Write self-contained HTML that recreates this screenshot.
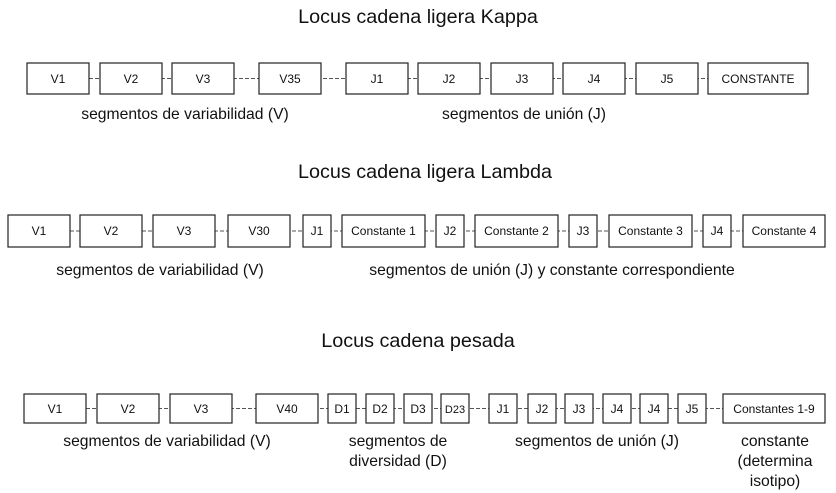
<!DOCTYPE html>
<html><head><meta charset="utf-8"><style>
body{margin:0;background:#fff}
svg{display:block}
text{font-family:"Liberation Sans",sans-serif;fill:#111}
.b{fill:#fff;stroke:#222;stroke-width:1.2}
.l{stroke:#555;stroke-width:1;stroke-dasharray:4,2}
.t{font-size:12px}
.s{font-size:11px}
.h{font-size:19.8px}
.c{font-size:15.7px}
</style></head><body>
<svg width="836" height="493" viewBox="0 0 836 493">
<text class="h" x="418" y="23" text-anchor="middle">Locus cadena ligera Kappa</text>
<text class="h" x="425" y="178" text-anchor="middle">Locus cadena ligera Lambda</text>
<text class="h" x="418" y="347" text-anchor="middle">Locus cadena pesada</text>

<!-- Row1 -->
<line class="l" x1="89" y1="78.5" x2="708" y2="78.5"/>
<g>
<rect class="b" x="27" y="63" width="62" height="31"/><text class="t" x="58" y="83" text-anchor="middle">V1</text>
<rect class="b" x="100" y="63" width="62" height="31"/><text class="t" x="131" y="83" text-anchor="middle">V2</text>
<rect class="b" x="172" y="63" width="62" height="31"/><text class="t" x="203" y="83" text-anchor="middle">V3</text>
<rect class="b" x="259" y="63" width="62" height="31"/><text class="t" x="290" y="83" text-anchor="middle">V35</text>
<rect class="b" x="346" y="63" width="62" height="31"/><text class="t" x="377" y="83" text-anchor="middle">J1</text>
<rect class="b" x="418" y="63" width="62" height="31"/><text class="t" x="449" y="83" text-anchor="middle">J2</text>
<rect class="b" x="491" y="63" width="62" height="31"/><text class="t" x="522" y="83" text-anchor="middle">J3</text>
<rect class="b" x="563" y="63" width="62" height="31"/><text class="t" x="594" y="83" text-anchor="middle">J4</text>
<rect class="b" x="636" y="63" width="62" height="31"/><text class="t" x="667" y="83" text-anchor="middle">J5</text>
<rect class="b" x="708" y="63" width="100" height="31"/><text class="t" x="758" y="83" text-anchor="middle">CONSTANTE</text>
</g>
<text class="c" x="185" y="119" text-anchor="middle">segmentos de variabilidad (V)</text>
<text class="c" x="524" y="119" text-anchor="middle">segmentos de unión (J)</text>

<!-- Row2 -->
<line class="l" x1="70" y1="231" x2="743" y2="231"/>
<rect class="b" x="8" y="215" width="62" height="32"/><text class="t" x="39" y="235" text-anchor="middle">V1</text>
<rect class="b" x="80" y="215" width="62" height="32"/><text class="t" x="111" y="235" text-anchor="middle">V2</text>
<rect class="b" x="153" y="215" width="62" height="32"/><text class="t" x="184" y="235" text-anchor="middle">V3</text>
<rect class="b" x="228" y="215" width="62" height="32"/><text class="t" x="259" y="235" text-anchor="middle">V30</text>
<rect class="b" x="303" y="215" width="28" height="32"/><text class="t" x="317" y="235" text-anchor="middle">J1</text>
<rect class="b" x="342" y="215" width="83" height="32"/><text class="t" x="383.5" y="235" text-anchor="middle">Constante 1</text>
<rect class="b" x="436" y="215" width="28" height="32"/><text class="t" x="450" y="235" text-anchor="middle">J2</text>
<rect class="b" x="475" y="215" width="83" height="32"/><text class="t" x="516.5" y="235" text-anchor="middle">Constante 2</text>
<rect class="b" x="569" y="215" width="28" height="32"/><text class="t" x="583" y="235" text-anchor="middle">J3</text>
<rect class="b" x="609" y="215" width="83" height="32"/><text class="t" x="650.5" y="235" text-anchor="middle">Constante 3</text>
<rect class="b" x="703" y="215" width="28" height="32"/><text class="t" x="717" y="235" text-anchor="middle">J4</text>
<rect class="b" x="743" y="215" width="82" height="32"/><text class="t" x="784" y="235" text-anchor="middle">Constante 4</text>
<text class="c" x="160" y="275" text-anchor="middle">segmentos de variabilidad (V)</text>
<text class="c" x="552" y="275" text-anchor="middle">segmentos de unión (J) y constante correspondiente</text>

<!-- Row3 -->
<line class="l" x1="86" y1="408.5" x2="723" y2="408.5"/>
<rect class="b" x="24" y="394" width="62" height="29"/><text class="t" x="55" y="413" text-anchor="middle">V1</text>
<rect class="b" x="97" y="394" width="62" height="29"/><text class="t" x="128" y="413" text-anchor="middle">V2</text>
<rect class="b" x="170" y="394" width="62" height="29"/><text class="t" x="201" y="413" text-anchor="middle">V3</text>
<rect class="b" x="256" y="394" width="62" height="29"/><text class="t" x="287" y="413" text-anchor="middle">V40</text>
<rect class="b" x="328" y="394" width="28" height="29"/><text class="t" x="342" y="413" text-anchor="middle">D1</text>
<rect class="b" x="366" y="394" width="28" height="29"/><text class="t" x="380" y="413" text-anchor="middle">D2</text>
<rect class="b" x="404" y="394" width="28" height="29"/><text class="t" x="418" y="413" text-anchor="middle">D3</text>
<rect class="b" x="441" y="394" width="28" height="29"/><text class="s" x="455" y="413" text-anchor="middle">D23</text>
<rect class="b" x="489" y="394" width="28" height="29"/><text class="t" x="503" y="413" text-anchor="middle">J1</text>
<rect class="b" x="528" y="394" width="28" height="29"/><text class="t" x="542" y="413" text-anchor="middle">J2</text>
<rect class="b" x="565" y="394" width="28" height="29"/><text class="t" x="579" y="413" text-anchor="middle">J3</text>
<rect class="b" x="603" y="394" width="28" height="29"/><text class="t" x="617" y="413" text-anchor="middle">J4</text>
<rect class="b" x="640" y="394" width="28" height="29"/><text class="t" x="654" y="413" text-anchor="middle">J4</text>
<rect class="b" x="678" y="394" width="28" height="29"/><text class="t" x="692" y="413" text-anchor="middle">J5</text>
<rect class="b" x="723" y="394" width="102" height="29"/><text class="t" x="774" y="413" text-anchor="middle">Constantes 1-9</text>
<text class="c" x="167" y="446" text-anchor="middle">segmentos de variabilidad (V)</text>
<text class="c" x="398" y="446" text-anchor="middle">segmentos de</text>
<text class="c" x="398" y="466" text-anchor="middle">diversidad (D)</text>
<text class="c" x="597" y="446" text-anchor="middle">segmentos de unión (J)</text>
<text class="c" x="775" y="446" text-anchor="middle">constante</text>
<text class="c" x="775" y="466" text-anchor="middle">(determina</text>
<text class="c" x="775" y="486" text-anchor="middle">isotipo)</text>
</svg>
</body></html>
